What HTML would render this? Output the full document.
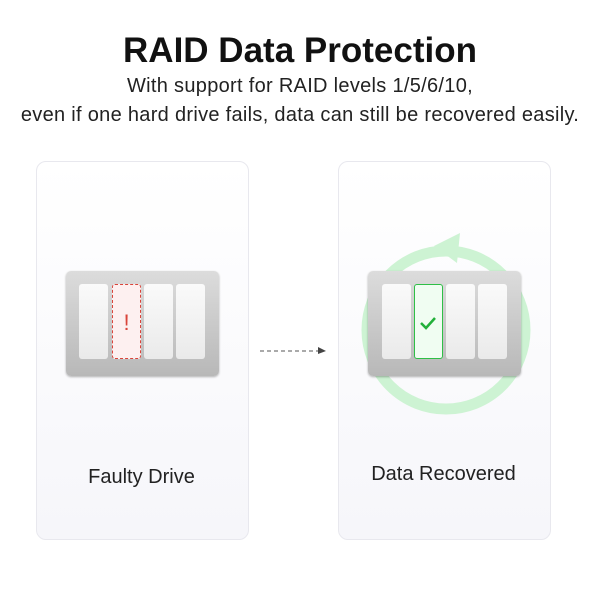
<!DOCTYPE html>
<html><head><style>
body{margin:0;width:600px;height:600px;background:#fff;font-family:"Liberation Sans",sans-serif;position:relative;overflow:hidden}
.t{position:absolute;left:0;width:600px;text-align:center;color:#111}
.card{position:absolute;top:161px;width:211px;height:377px;border:1px solid #e8e8ee;border-radius:10px;background:linear-gradient(#fff,#f6f6fa)}
.enc{position:absolute;width:153px;height:105px;border-radius:5px;background:linear-gradient(#dcdcdc,#b8b8b8);box-shadow:0 1px 2px rgba(0,0,0,.3)}
.d{position:absolute;top:13px;width:29px;height:75px;border-radius:3px;background:linear-gradient(#fafafa,#eaeaea)}
</style></head><body>
<div class="t" style="top:31px;font-size:35px;font-weight:bold">RAID Data Protection</div>
<div class="t" style="top:72px;font-size:20px;line-height:29px;color:#222;letter-spacing:0.3px">With support for RAID levels 1/5/6/10,<br>even if one hard drive fails, data can still be recovered easily.</div>
<div class="card" style="left:36px"></div>
<div class="card" style="left:338px"></div>
<div class="enc" style="left:66px;top:271px">
<div class="d" style="left:13px"></div>
<div class="d" style="left:46px;background:#fdf0f0;border:1px dashed #d9443a;box-sizing:border-box;color:#d9443a;font-size:22px;text-align:center;line-height:75px">!</div>
<div class="d" style="left:78px"></div>
<div class="d" style="left:110px"></div>
</div>
<svg style="position:absolute;left:0;top:0" width="600" height="600">
<line x1="260" y1="351" x2="318" y2="351" stroke="#777" stroke-width="1.3" stroke-dasharray="4 3"/>
<polygon points="318,347 326,351 318,354" fill="#444"/>
<circle cx="446" cy="330" r="79" fill="none" stroke="#cdf3d3" stroke-width="11"/>
<polygon points="434,246 460,233 457,263" fill="#cdf3d3"/>
</svg>
<div class="enc" style="left:368px;top:271px">
<div class="d" style="left:14px"></div>
<div class="d" style="left:46px;background:#f0fdf2;border:1.5px solid #2fbf47;box-sizing:border-box"><svg width="26" height="72"><polyline points="6,38 11,43 20,33" fill="none" stroke="#22b03a" stroke-width="2.5"/></svg></div>
<div class="d" style="left:78px"></div>
<div class="d" style="left:110px"></div>
</div>
<div style="position:absolute;left:36px;width:211px;top:466px;text-align:center;font-size:20px;color:#222">Faulty Drive</div>
<div style="position:absolute;left:338px;width:211px;top:463px;text-align:center;font-size:20px;color:#222">Data Recovered</div>
</body></html>
